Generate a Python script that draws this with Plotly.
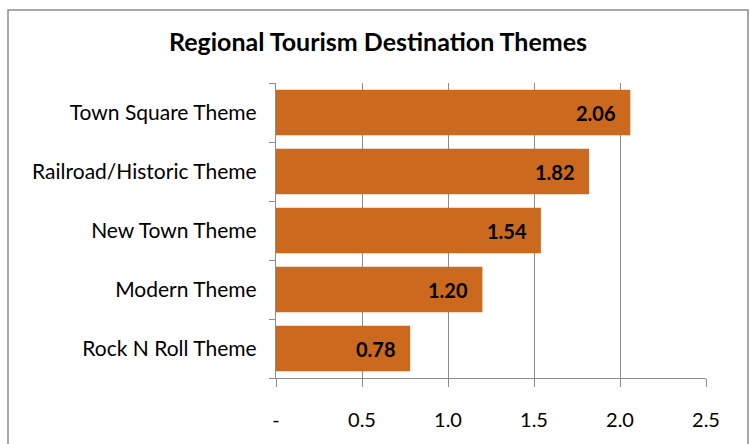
import plotly.graph_objects as go

categories = ["Rock N Roll Theme", "Modern Theme", "New Town Theme", "Railroad/Historic Theme", "Town Square Theme"]
values = [0.78, 1.20, 1.54, 1.82, 2.06]
labels = ["0.78", "1.20", "1.54", "1.82", "2.06"]
tick_vals = [0, 0.5, 1.0, 1.5, 2.0, 2.5]
tick_text = ["-", "0.5", "1.0", "1.5", "2.0", "2.5"]

L, R, T, B = 276, 44, 83, 66
W, H = 750, 444
pw, ph = W - L - R, H - T - B

fig = go.Figure()
fig.add_trace(go.Bar(
    y=categories, x=values, orientation="h",
    marker=dict(color="#CB6A1E", line=dict(width=0)),
    width=0.77, hoverinfo="skip",
))
for c, v, t in zip(categories, values, labels):
    fig.add_annotation(x=v, y=c, text="<b>%s</b>" % t, showarrow=False,
                       xanchor="right", xshift=-12, yshift=0,
                       font=dict(family="Lato", size=20, color="#000000"))

fig.add_shape(type="rect", xref="paper", yref="paper",
              x0=(8 - L) / pw, x1=(748 - L) / pw,
              y0=(T + ph - 450) / ph, y1=(T + ph - 10) / ph,
              line=dict(color="#8c8c8c", width=1.5), layer="below")

fig.update_layout(
    width=W, height=H,
    margin=dict(l=L, r=R, t=T, b=B),
    paper_bgcolor="white", plot_bgcolor="white",
    showlegend=False,
    title=dict(text="<b>Regional Tourism Destination Themes</b>", x=0.504, xanchor="center",
               y=1 - 42 / H, yanchor="middle",
               font=dict(family="Lato", size=25, color="#000000")),
    xaxis=dict(range=[0, 2.5], tickvals=tick_vals, ticktext=tick_text,
               showgrid=True, gridcolor="#8c8c8c", gridwidth=1.4,
               showline=True, linecolor="#8c8c8c", linewidth=1.4,
               ticks="outside", ticklen=8, tickcolor="#8c8c8c", tickwidth=1.4,
               ticklabelstandoff=16,
               zeroline=False, fixedrange=True,
               tickfont=dict(family="Lato", size=20, color="#000000")),
    yaxis=dict(type="category", showgrid=False, showline=True, linecolor="#8c8c8c", linewidth=1.4,
               ticks="outside", ticklen=6, tickcolor="#8c8c8c", tickwidth=1.4,
               tickson="boundaries", ticklabelstandoff=14, zeroline=False,
               tickfont=dict(family="Lato", size=21, color="#000000")),
    bargap=0.23,
)
fig.write_html("out.html")
